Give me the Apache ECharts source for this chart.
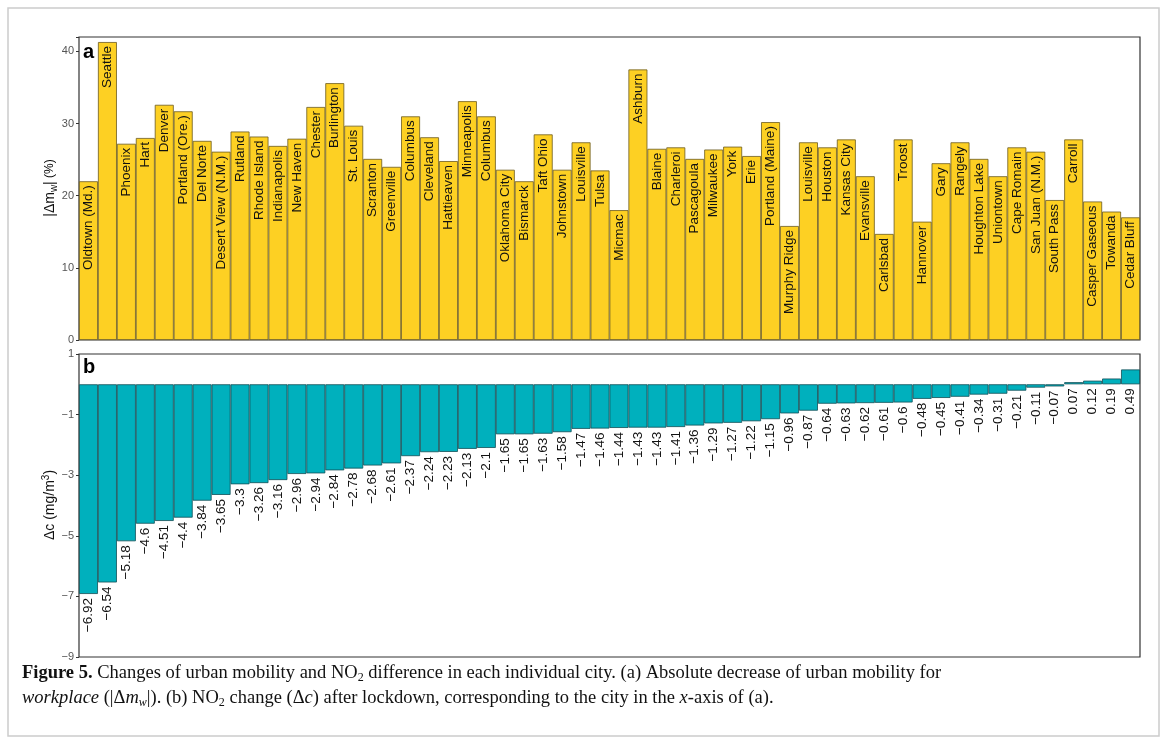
<!DOCTYPE html>
<html><head><meta charset="utf-8">
<script src="https://cdn.jsdelivr.net/npm/echarts@6/dist/echarts.min.js"></script>
<style>html,body{margin:0;background:#fff}#c{width:1167px;height:744px}</style>
</head><body><div id="c"></div>
<script>
// 城市
const cities = ['Oldtown (Md.)','Seattle','Phoenix','Hart','Denver','Portland (Ore.)','Del Norte','Desert View (N.M.)','Rutland','Rhode Island','Indianapolis','New Haven','Chester','Burlington','St. Louis','Scranton','Greenville','Columbus','Cleveland','Hattieaven','Minneapolis','Columbus ','Oklahoma City','Bismarck','Taft Ohio','Johnstown','Louisville','Tulsa','Micmac','Ashburn','Blaine','Charleroi','Pascagoula','Milwaukee','York','Erie','Portland (Maine)','Murphy Ridge','Louisville ','Houston','Kansas City','Evansville','Carlsbad','Troost','Hannover','Gary','Rangely','Houghton Lake','Uniontown','Cape Romain','San Juan (N.M.)','South Pass','Carroll','Casper Gaseous','Towanda','Cedar Bluff']
// |Δm_w| (%)
const mobility = [22,41.3,27.2,28,32.6,31.7,27.6,26.1,28.9,28.2,26.9,27.9,32.3,35.6,29.7,25.1,24,31,28.1,24.8,33.1,31,23.6,22,28.5,23.6,27.4,23.5,18,37.5,26.5,26.7,25.1,26.4,26.8,25.5,30.2,15.8,27.4,26.7,27.8,22.7,14.7,27.8,16.4,24.5,27.4,25.1,22.7,26.7,26.1,19.4,27.8,19.2,17.8,17]
// Δc (mg/m3)
const no2 = [-6.92,-6.54,-5.18,-4.6,-4.51,-4.4,-3.84,-3.65,-3.3,-3.26,-3.16,-2.96,-2.94,-2.84,-2.78,-2.68,-2.61,-2.37,-2.24,-2.23,-2.13,-2.1,-1.65,-1.65,-1.63,-1.58,-1.47,-1.46,-1.44,-1.43,-1.43,-1.41,-1.36,-1.29,-1.27,-1.22,-1.15,-0.96,-0.87,-0.64,-0.63,-0.62,-0.61,-0.6,-0.48,-0.45,-0.41,-0.34,-0.31,-0.21,-0.11,-0.07,0.07,0.12,0.19,0.49]

const font = 'Liberation Sans'
const axisCommon = {
  axisLine: { show: false }, axisTick: { show: true, lineStyle: { color: '#333' }, length: 3 },
  axisLabel: { color: '#555', fontSize: 11, fontFamily: font, margin: 5 },
  splitLine: { show: false }
}
const chart = echarts.init(document.getElementById('c'))
chart.setOption({
  animation: false,
  grid: [
    { left: 79, right: 27, top: 37, height: 303, show: true, borderColor: '#333', borderWidth: 1.2 },
    { left: 79, right: 27, top: 354, height: 303, show: true, borderColor: '#333', borderWidth: 1.2 }
  ],
  xAxis: [
    { gridIndex: 0, type: 'category', data: cities, axisLabel: { show: false }, axisTick: { show: false }, axisLine: { show: false } },
    { gridIndex: 1, type: 'category', data: cities, axisLabel: { show: false }, axisTick: { show: false }, axisLine: { show: false } }
  ],
  yAxis: [
    Object.assign({ gridIndex: 0, min: 0, max: 42, interval: 10 }, axisCommon,
      { axisLabel: Object.assign({}, axisCommon.axisLabel, { formatter: v => v > 40 ? '' : v }) }),
    Object.assign({ gridIndex: 1, min: -9, max: 1, interval: 2 }, axisCommon,
      { axisLabel: Object.assign({}, axisCommon.axisLabel, { formatter: v => String(v).replace('-', '\u2212') }) })
  ],
  series: [
    { type: 'bar', xAxisIndex: 0, yAxisIndex: 0, data: mobility, barCategoryGap: 0,
      itemStyle: { color: '#FDD023', borderColor: '#6b5a20', borderWidth: 0.8 },
      label: { show: true, position: 'insideTop', rotate: 90, align: 'right', verticalAlign: 'middle',
        distance: 4, formatter: p => p.name.trim(), fontFamily: font, fontSize: 13.5, color: '#111' } },
    { type: 'bar', xAxisIndex: 1, yAxisIndex: 1, data: no2, barCategoryGap: 0,
      itemStyle: { color: '#00B0BD', borderColor: '#124e55', borderWidth: 0.8 },
      label: { show: true, position: 'bottom', rotate: 90, align: 'right', verticalAlign: 'middle',
        distance: 4, formatter: p => String(p.value).replace('-', '\u2212'), fontFamily: font, fontSize: 13.5, color: '#111' } }
  ],
  graphic: [
    { type: 'rect', shape: { x: 8, y: 8, width: 1151, height: 728 }, style: { fill: 'none', stroke: '#ccc', lineWidth: 1.5 } },
    { type: 'text', left: 83, top: 42, style: { text: 'a', font: 'bold 20px ' + font, fill: '#000' } },
    { type: 'text', left: 83, top: 357, style: { text: 'b', font: 'bold 20px ' + font, fill: '#000' } },
    { type: 'text', x: 50, y: 188, rotation: Math.PI / 2, style: {
      text: '{a||Δm}{s|w}{a||} (%)', align: 'center', verticalAlign: 'middle',
      rich: { a: { fontFamily: font, fontSize: 14, fill: '#111' }, s: { fontFamily: font, fontSize: 10, fill: '#111', padding: [8, 0, 0, 0] } } } },
    { type: 'text', x: 50, y: 505, rotation: Math.PI / 2, style: {
      text: '{a|Δc (mg/m}{s|3}{a|)}', align: 'center', verticalAlign: 'middle',
      rich: { a: { fontFamily: font, fontSize: 14, fill: '#111' }, s: { fontFamily: font, fontSize: 10, fill: '#111', padding: [0, 0, 8, 0] } } } },
    { type: 'text', left: 22, top: 661, style: {
      text: '{b|Figure 5.} Changes of urban mobility and NO{s|2} difference in each individual city. (a) Absolute decrease of urban mobility for\n{i|workplace} (|Δ{i|m}{si|w}|). (b) NO{s|2} change (Δ{i|c}) after lockdown, corresponding to the city in the {i|x}-axis of (a).',
      font: '18.5px Liberation Serif', fill: '#111', lineHeight: 25,
      rich: { b: { font: 'bold 18.5px Liberation Serif', fill: '#111' }, i: { font: 'italic 18.5px Liberation Serif', fill: '#111' },
        s: { font: '12px Liberation Serif', fill: '#111', padding: [9, 0, 0, 0] }, si: { font: 'italic 12px Liberation Serif', fill: '#111', padding: [9, 0, 0, 0] } } } }
  ]
})
</script></body></html>
